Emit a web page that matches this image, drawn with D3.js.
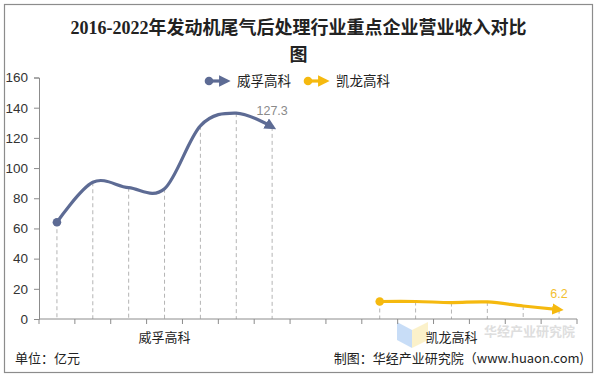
<!DOCTYPE html>
<html><head><meta charset="utf-8">
<script src="https://cdn.jsdelivr.net/npm/d3@7/dist/d3.min.js"></script>
<style>
html,body{margin:0;padding:0;background:#fff;}
svg{display:block;}
</style></head>
<body>
<svg id="chart" width="597" height="376"></svg>
<script>
const titleLines = ["2016-2022年发动机尾气后处理行业重点企业营业收入对比", "图"];
const companies = ["威孚高科", "凯龙高科"];
const years = ["2016", "2017", "2018", "2019", "2020", "2021", "2022"];
const weifuValues = [64.1, 90.6, 87.0, 86.3, 128.0, 136.4, 127.3];
const kailongValues = [null, 11.6, 11.6, 10.9, 11.3, 8.6, 6.2];
const yTicks = [0, 20, 40, 60, 80, 100, 120, 140, 160];
const colors = ["#5d6b94", "#f5b90f"];
const labelColors = ["#8a8a8a", "#f2bf33"];
const unitText = "单位：亿元";
const sourceText = "制图：华经产业研究院（www.huaon.com)";
const watermarkText = "华经产业研究院";

const svg = d3.select("#chart");
const FONT = "'Liberation Sans', Arial, 'Noto Sans CJK SC', sans-serif";

// border
svg.append("rect").attr("x", 4.5).attr("y", 4.5).attr("width", 588).attr("height", 368)
  .attr("fill", "#fff").attr("stroke", "#8c8c8c").attr("stroke-width", 1.2);

// title
svg.append("g").selectAll("text").data(titleLines).join("text")
  .attr("x", 298.5).attr("y", (d, i) => 34 + i * 27)
  .attr("text-anchor", "middle")
  .attr("font-family", "'Liberation Serif', 'Noto Sans CJK SC', serif")
  .attr("font-weight", "bold").attr("font-size", 18).attr("fill", "#222")
  .text(d => d);

// slots: group g at slots g*8 .. g*8+6
const nSlots = 15;
const x = d3.scaleBand().domain(d3.range(nSlots)).range([39, 577]).padding(0);
const y = d3.scaleLinear().domain([0, 160]).range([319, 77.5]);

const seriesValues = [weifuValues, kailongValues];
const series = seriesValues.map((vals, g) => vals.map((v, i) => ({slot: g * 8 + i, v, year: years[i]})).filter(d => d.v != null));

// watermark
const wm = svg.append("g").attr("opacity", 0.55);
wm.append("path").attr("d", "M397,322 L412,330 L412,348 L397,340 Z").attr("fill", "#9cc3f2");
wm.append("path").attr("d", "M412,330 L428,322 L428,340 L412,348 Z").attr("fill", "#f9e7a0");
wm.append("text").attr("x", 484).attr("y", 336).attr("font-family", "'Noto Sans CJK SC', sans-serif")
  .attr("font-size", 13).attr("font-weight", "bold").attr("fill", "#c4c4c4").text(watermarkText);

// drop lines
series.forEach(s => {
  svg.append("g").selectAll("line").data(s).join("line")
    .attr("x1", d => x(d.slot) + x.bandwidth() / 2).attr("x2", d => x(d.slot) + x.bandwidth() / 2)
    .attr("y1", d => y(d.v)).attr("y2", y(0))
    .attr("stroke", "#b4b4b4").attr("stroke-width", 1).attr("stroke-dasharray", "4,3");
});

// axes
const yAxis = d3.axisLeft(y).tickValues(yTicks).tickSize(5).tickPadding(6);
const gy = svg.append("g").attr("transform", "translate(39,0)").call(yAxis);
gy.select(".domain").attr("stroke", "#8c8c8c");
gy.selectAll(".tick line").attr("stroke", "#8c8c8c");
gy.selectAll(".tick text").attr("font-family", FONT).attr("font-size", 13.5).attr("fill", "#333");

const xb = svg.append("g");
xb.append("line").attr("x1", 39).attr("x2", 577).attr("y1", y(0)).attr("y2", y(0)).attr("stroke", "#8c8c8c");
xb.selectAll("line.t").data(d3.range(nSlots + 1)).join("line").attr("class", "t")
  .attr("x1", d => 39 + d * x.step()).attr("x2", d => 39 + d * x.step())
  .attr("y1", y(0)).attr("y2", y(0) + 5).attr("stroke", "#8c8c8c");
xb.selectAll("text").data(companies).join("text")
  .attr("x", (d, g) => (x(g * 8) + x(g * 8 + 6) + x.bandwidth()) / 2)
  .attr("y", 342).attr("text-anchor", "middle")
  .attr("font-family", "'Noto Sans CJK SC', sans-serif").attr("font-size", 13).attr("fill", "#222")
  .text(d => d);

// markers
const defs = svg.append("defs");
colors.forEach((c, i) => {
  defs.append("marker").attr("id", "arr" + i).attr("viewBox", "0 0 10 10")
    .attr("refX", 6).attr("refY", 5).attr("markerWidth", 3.6).attr("markerHeight", 3.6)
    .attr("markerUnits", "strokeWidth").attr("orient", "auto")
    .append("path").attr("d", "M0,0 L10,5 L0,10 Z").attr("fill", c);
});

const line = d3.line().x(d => x(d.slot) + x.bandwidth() / 2).y(d => y(d.v))
  .curve(d3.curveCardinal.tension(0));

series.forEach((s, i) => {
  svg.append("path").datum(s).attr("d", line).attr("fill", "none")
    .attr("stroke", colors[i]).attr("stroke-width", 3.2)
    .attr("stroke-linecap", "round").attr("marker-end", `url(#arr${i})`);
  const first = s[0];
  svg.append("circle").attr("cx", x(first.slot) + x.bandwidth() / 2).attr("cy", y(first.v))
    .attr("r", 4.3).attr("fill", colors[i]);
  const last = s[s.length - 1];
  svg.append("text").attr("x", x(last.slot) + x.bandwidth() / 2).attr("y", y(last.v) - 12)
    .attr("text-anchor", "middle").attr("font-family", FONT).attr("font-size", 12.5)
    .attr("fill", labelColors[i]).text(last.v);
});

// legend
const legX = [209, 308];
const lg = svg.append("g");
companies.forEach((c, i) => {
  const gx = legX[i], gy2 = 81;
  lg.append("line").attr("x1", gx).attr("x2", gx + 17).attr("y1", gy2).attr("y2", gy2)
    .attr("stroke", colors[i]).attr("stroke-width", 3.2).attr("marker-end", `url(#arr${i})`);
  lg.append("circle").attr("cx", gx).attr("cy", gy2).attr("r", 4.3).attr("fill", colors[i]);
  lg.append("text").attr("x", gx + 28).attr("y", gy2 + 5).attr("font-family", "'Noto Sans CJK SC', sans-serif")
    .attr("font-size", 13.5).attr("fill", "#222").text(c);
});

// footer
svg.append("text").attr("x", 15).attr("y", 363).attr("font-family", "'Noto Sans CJK SC', sans-serif")
  .attr("font-size", 13).attr("fill", "#222").text(unitText);
svg.append("text").attr("x", 584).attr("y", 363).attr("text-anchor", "end")
  .attr("font-family", "'Noto Sans CJK SC', sans-serif")
  .attr("font-size", 13).attr("fill", "#222").text(sourceText);
</script>
</body></html>
